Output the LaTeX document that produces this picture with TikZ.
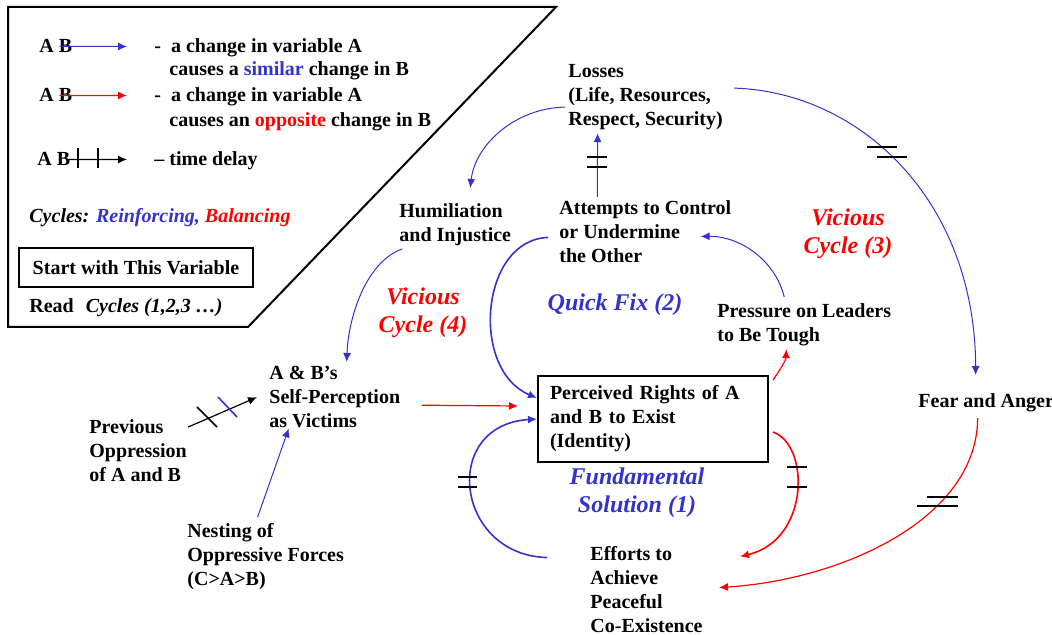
\documentclass[tikz,border=0pt]{standalone}
\usepackage{fontspec}
\setmainfont{Liberation Serif}
\usetikzlibrary{arrows.meta}
\definecolor{loopblue}{RGB}{51,51,204}
\definecolor{loopred}{RGB}{255,0,0}

\begin{document}
\begin{tikzpicture}[x=0.5pt, y=-0.5pt,
    var/.style={font=\bfseries, align=left, inner sep=0pt, anchor=north west},
    keytxt/.style={font=\bfseries, inner sep=0pt, anchor=base west},
    looplbl/.style={font=\fontsize{12}{14}\selectfont\bfseries\itshape, align=center, inner sep=0pt},
    same/.style={loopblue, line width=0.5pt, -{Latex[length=4.5pt,width=4pt]}},
    samebold/.style={same, line width=0.8pt},
    oppo/.style={loopred, line width=0.6pt, -{Latex[length=4.5pt,width=4pt]}},
    oppobold/.style={oppo, line width=0.8pt},
    lag/.style={black, line width=0.8pt}]
        \useasboundingbox (0,0) rectangle (1052,635);

        % key
        \draw[line width=1pt] (8,7) -- (556,7) -- (248,327) -- (8,327) -- cycle;
        \node[keytxt] (abS) at (39,53) {A B};
        \coordinate (tipS) at (127,46.5);
        \draw[same] ([shift={(-13,0)}]abS.east) -- (tipS);
        \node[keytxt] (keyS) at (154,53) {-\hspace{5pt}a change in variable A};
        \node[keytxt] (keyS2) at (169,76) {causes a \textcolor{loopblue}{similar} change in B};
        \node[keytxt] (abO) at (39,102) {A B};
        \coordinate (tipO) at (127,95.5);
        \draw[oppo] ([shift={(-13,0)}]abO.east) -- (tipO);
        \node[keytxt] (keyO) at (154,102) {-\hspace{5pt}a change in variable A};
        \node[keytxt] (keyO2) at (169,127) {causes an \textcolor{loopred}{opposite} change in B};
        \node[keytxt] (abD) at (37,166) {A B};
        \coordinate (tipD) at (127,159.5);
        \draw[black, line width=0.6pt, -{Latex[length=4.5pt,width=4pt]}] ([shift={(-2,0)}]abD.east) -- (tipD);
        \draw[lag] (78,148) -- (78,168);
        \draw[lag] (98,148) -- (98,168);
        \node[keytxt] (keyD) at (154,166) {– time delay};
        \node[keytxt, font=\bfseries\itshape] (cyc) at (29,223) {Cycles: \textcolor{loopblue}{Reinforcing,} \textcolor{loopred}{Balancing}};
        \node[draw, line width=1pt, font=\bfseries, anchor=north west, minimum width=117pt, minimum height=19.5pt] (start) at (18,247) {Start with This Variable};
        \node[keytxt] (read) at (29,313) {Read\hspace{6pt}\textit{Cycles (1,2,3 …)}};

        % variables
        \node[var] (losses) at (568,64) {Losses\\(Life, Resources,\\Respect, Security)};
        \node[var] (humil) at (399,203) {Humiliation\\and Injustice};
        \node[var] (attempts) at (559,200) {Attempts to Control\\or Undermine\\the Other};
        \node[var] (pressure) at (717,303) {Pressure on Leaders\\to Be Tough};
        \node[var] (selfp) at (269,366) {A \& B’s\\Self-Perception\\as Victims};
        \node[var] (prev) at (89,419) {Previous\\Oppression\\of A and B};
        \node[var] (nesting) at (187,523) {Nesting of\\Oppressive Forces\\(C>A>B)};
        \node[var] (fear) at (918,393) {Fear and Anger};
        \node[var] (efforts) at (590,546) {Efforts to\\Achieve\\Peaceful\\Co-Existence};
        \node[var, draw, line width=1pt, text width=103pt, minimum height=43pt, inner xsep=6pt] (rights) at (537,375) {Perceived Rights of A\\and B to Exist\\(Identity)};

        % cycle names
        \node[looplbl, loopred] (vic3) at (848,234) {Vicious\\Cycle (3)};
        \node[looplbl, loopblue] (quick) at (615,305) {Quick Fix (2)};
        \node[looplbl, loopred] (vic4) at (423,313) {Vicious\\Cycle (4)};
        \node[looplbl, loopblue] (fund) at (637,493) {Fundamental\\Solution (1)};

        % links
        \draw[same] ([shift={(-3,10)}]losses.west) .. controls (515,108) and (475,145) .. ([shift={(15,-15)}]humil.north);
        \draw[same] ([shift={(-48,-3)}]attempts.north) -- ([shift={(-48,3)}]losses.south);
        \draw[same] ([shift={(11,-9)}]losses.east) .. controls (860,92) and (975,200) .. ([shift={(-10.5,-18)}]fear.north);
        \draw[same] ([shift={(-20,-6)}]pressure.north) .. controls (775,260) and (740,236) .. ([shift={(-31,5)}]attempts.east);
        \draw[samebold] ([shift={(-11,6)}]attempts.west) .. controls (480,240) and (470,370) .. ([shift={(0,-21)}]rights.west);
        \draw[same] ([shift={(-53,3)}]humil.south) .. controls (365,262) and (348,320) .. ([shift={(12,-4)}]selfp.north);
        \draw[black, line width=0.6pt, -{Latex[length=4.5pt,width=4pt]}] ([shift={(1,8)}]prev.north east) -- ([shift={(-12,0)}]selfp.west);
        \draw[same] ([shift={(-8,-6)}]nesting.north) -- ([shift={(-46,0)}]selfp.south);
        \draw[oppo] ([shift={(21,8)}]selfp.east) -- ([shift={(-19,-13)}]rights.west);
        \draw[samebold] ([shift={(-43,-32)}]efforts.west) .. controls (455,555) and (440,425) .. (rights.west);
        \draw[oppo] ([shift={(4,5)}]rights.north east) .. controls (780,370) and (786,360) .. ([shift={(-18,3)}]pressure.south);
        \draw[oppobold] ([shift={(4,13)}]rights.east) .. controls (810,445) and (810,540) .. ([shift={(37,-33)}]efforts.east);
        \draw[oppo] ([shift={(-8.5,6)}]fear.south) .. controls (977,520) and (840,580) .. ([shift={(16,-2)}]efforts.east);

        % delays
        \draw[lag] (587,157) -- (607,157);
        \draw[lag] (587,167) -- (607,167);
        \draw[lag] (867,147) -- (897,147);
        \draw[lag] (877,157) -- (907,157);
        \draw[lag] (458,477) -- (477,477);
        \draw[lag] (458,487) -- (477,487);
        \draw[lag] (787,467) -- (807,467);
        \draw[lag] (787,487) -- (807,487);
        \draw[lag] (927,497) -- (958,497);
        \draw[lag] (917,506) -- (958,506);
        \draw[lag] (197,407) -- (217,427);
        \draw[lag, loopblue] (218,397) -- (237,417);
    \end{tikzpicture}
\end{document}
